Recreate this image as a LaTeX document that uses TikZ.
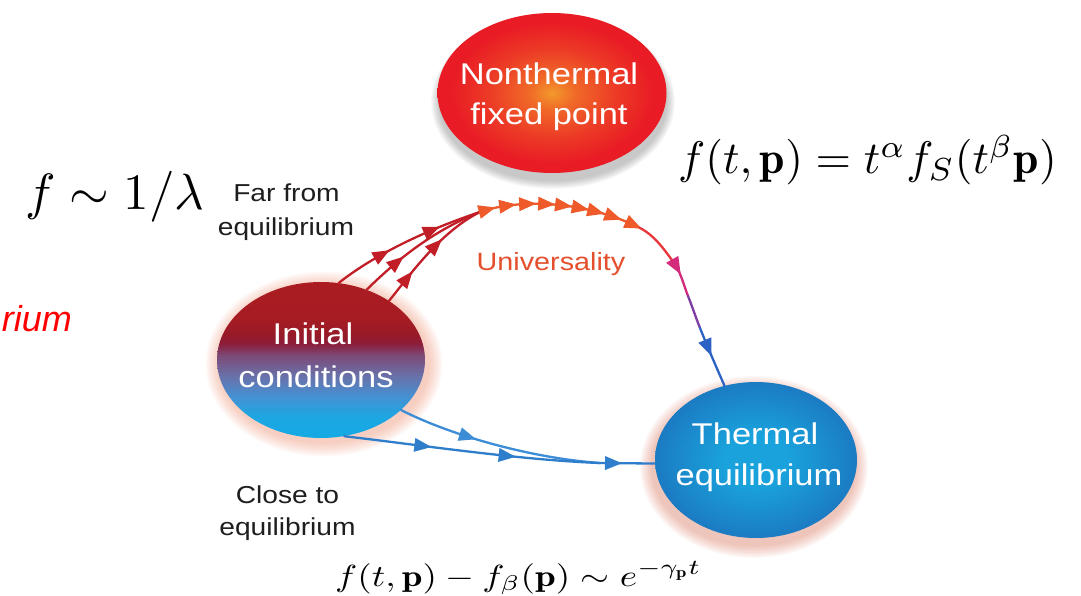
\documentclass[tikz,border=0pt]{standalone}
\usepackage{fontspec}
\usetikzlibrary{shapes.geometric,arrows.meta,decorations.markings}
\newfontfamily\labsans{Liberation Sans}
\newcommand\hstr[1]{\scalebox{1.15}[1]{#1}}
\definecolor{ntA}{HTML}{F39A2C}
\definecolor{ntB}{HTML}{F06A28}
\definecolor{ntC}{HTML}{EC3A26}
\definecolor{ntD}{HTML}{E91C25}
\definecolor{teA}{HTML}{1AA2DC}
\definecolor{teB}{HTML}{1B7BC3}
\definecolor{icA}{HTML}{14AAE4}
\definecolor{icB}{HTML}{1EA6E2}
\definecolor{icC}{HTML}{4690D2}
\definecolor{icD}{HTML}{6A70A8}
\definecolor{icE}{HTML}{7C4A78}
\definecolor{icF}{HTML}{8C1C3A}
\definecolor{icG}{HTML}{961A28}
\definecolor{icH}{HTML}{A61C22}
\definecolor{icI}{HTML}{AA1C22}
\definecolor{icglow}{HTML}{F08A66}
\definecolor{teglow}{HTML}{DC7056}
\definecolor{ntshadow}{HTML}{505050}
\definecolor{redline}{HTML}{C21E28}
\definecolor{orline}{HTML}{EF5A2A}
\definecolor{rdline}{HTML}{E8363C}
\definecolor{mgline}{HTML}{D42A7C}
\definecolor{ppline}{HTML}{7E3EA4}
\definecolor{blline}{HTML}{2C62C4}
\definecolor{bluA}{HTML}{3C8CD6}
\definecolor{bluB}{HTML}{2E7ECC}
\definecolor{univcol}{HTML}{E4502E}
\definecolor{labtxt}{HTML}{1E1E1E}
\pgfdeclareradialshading{ntshade}{\pgfpoint{0bp}{0bp}}{color(0bp)=(ntA); color(5bp)=(ntB); color(14bp)=(ntC); color(22bp)=(ntD); color(50bp)=(ntD)}
\pgfdeclareradialshading{teshade}{\pgfpoint{0bp}{0bp}}{color(0bp)=(teA); color(8bp)=(teA); color(25bp)=(teB); color(50bp)=(teB)}
\pgfdeclareverticalshading{icshade}{100bp}{color(0bp)=(icA); color(25bp)=(icA); color(32bp)=(icB); color(38.5bp)=(icC); color(45bp)=(icD); color(51.5bp)=(icE); color(55.3bp)=(icF); color(58bp)=(icG); color(63bp)=(icH); color(75bp)=(icI); color(100bp)=(icI)}
\tikzset{
  blob/.style={ellipse, inner sep=0pt, draw=none, shade},
  wtext/.style={text=white, font=\labsans\fontsize{30}{36}\selectfont, inner sep=0pt, anchor=base},
  btext/.style={text=labtxt, font=\labsans\fontsize{24.5}{30}\selectfont, inner sep=0pt, anchor=base},
  flow/.style={line width=2.3pt, line cap=round, postaction={decorate}},
  plainflow/.style={line width=2.3pt, line cap=round},
  mathlab/.style={inner sep=0pt, anchor=base west},
}
\newcommand\tipmark{\fill (-9pt,-7pt) -- (8pt,0pt) -- (-9pt,7pt) -- cycle;}
\begin{document}
\begin{tikzpicture}[x=1pt, y=-1pt]
\useasboundingbox (0,0) rectangle (1081,596);
\fill[white] (0,0) rectangle (1081,596);

% halos and shadows
\foreach \k in {1,...,8}
  \fill[ntshadow, opacity=0.045] (553,102) ellipse [x radius={113pt+1.1pt*\k}, y radius={78pt+1.1pt*\k}];
\foreach \k in {1,...,8}
  \fill[icglow, opacity=0.06] (324,364) ellipse [x radius={104pt+1.8pt*\k}, y radius={78pt+1.8pt*\k}];
\foreach \k in {1,...,8}
  \fill[teglow, opacity=0.06] (754,467) ellipse [x radius={101pt+1.6pt*\k}, y radius={78pt+1.6pt*\k}];

% ellipses
\node[blob, shading=ntshade, minimum width=229pt, minimum height=160pt] (nt) at (552,93) {};
\node[blob, shading=icshade, minimum width=208pt, minimum height=156pt] (ic) at (321,360) {};
\node[blob, shading=teshade, minimum width=202pt, minimum height=156pt] (te) at (756,460) {};

% texts in ellipses
\node[wtext] (nt1) at (549,85) {\hstr{Nonthermal}};
\node[wtext] (nt2) at (549,125) {\hstr{fixed point}};
\node[wtext] (ic1) at (313,344) {\hstr{Initial}};
\node[wtext] (ic2) at (316,387) {\hstr{conditions}};
\node[wtext] (te1) at (755,444) {\hstr{Thermal}};
\node[wtext] (te2) at (759,485) {\hstr{equilibrium}};

% labels
\node[btext] (far1) at (286.5,202) {\hstr{Far from}};
\node[btext] (far2) at (286,235) {\hstr{equilibrium}};
\node[btext] (cl1) at (287.5,503) {\hstr{Close to}};
\node[btext] (cl2) at (287.5,535) {\hstr{equilibrium}};
\node[btext, text=univcol, font=\labsans\fontsize{25}{30}\selectfont] (univ) at (551,270) {\hstr{Universality}};
\node[inner sep=0pt, anchor=base east, text=red, font=\labsans\itshape\fontsize{36}{42}\selectfont] (rium) at (72,331) {rium};

% flow coordinates
\coordinate (merge) at (480,212);
\coordinate (a1) at (640,228);
\coordinate (a2) at (674,263);
\coordinate (a3) at (688,296);
\coordinate (a4) at (700,328);
\coordinate (bmerge) at (600,463);

% red curves from initial conditions
\draw[flow, redline, decoration={markings,
    mark=at position 0.33 with {\tipmark},
    mark=at position 0.68 with {\tipmark}}]
  (ic.77) .. controls (370,258) and (420,232) .. (merge);
\draw[flow, redline, decoration={markings,
    mark=at position 0.30 with {\tipmark}}]
  (ic.57) .. controls (395,262) and (430,232) .. (merge);
\draw[flow, redline, decoration={markings,
    mark=at position 0.23 with {\tipmark},
    mark=at position 0.57 with {\tipmark}}]
  (ic.41) .. controls (410,275) and (440,232) .. (merge);

% universal arc
\draw[flow, orline, decoration={markings,
    mark=at position 8pt with {\tipmark},
    mark=at position 29pt with {\tipmark},
    mark=at position 49pt with {\tipmark},
    mark=at position 68pt with {\tipmark},
    mark=at position 85pt with {\tipmark},
    mark=at position 102pt with {\tipmark},
    mark=at position 118pt with {\tipmark},
    mark=at position 136pt with {\tipmark},
    mark=at position 158pt with {\tipmark}}]
  (merge) .. controls (520,198) and (586.6,201) .. (a1);
\draw[plainflow, rdline] (a1) .. controls (654.2,235.2) and (664.7,249.9) .. (a2);
\draw[flow, mgline, decoration={markings,
    mark=at position 5pt with {\tipmark}}]
  (a2) .. controls (681,272.8) and (683.6,284.8) .. (a3);
\draw[plainflow, ppline] (a3) .. controls (692.1,306.2) and (695.9,317.8) .. (a4);
\draw[flow, blline, decoration={markings,
    mark=at position 22pt with {\tipmark}}]
  (a4) .. controls (707.4,346.6) and (715.2,364.6) .. (te.113);

% blue curves
\draw[flow, bluA, decoration={markings,
    mark=at position 0.35 with {\tipmark}}]
  (ic.-32) .. controls (450,435) and (530,458) .. (bmerge);
\draw[flow, bluB, decoration={markings,
    mark=at position 0.31 with {\tipmark},
    mark=at position 0.64 with {\tipmark}}]
  (ic.-73) .. controls (420,445) and (520,460) .. (bmerge);
\draw[flow, bluB, decoration={markings,
    mark=at position 14pt with {\tipmark}}]
  (bmerge) -- (te.182);

% formulas
\node[mathlab] (lam) at (25,210) {\scalebox{5.1}{$f\sim 1/\lambda$}};
\node[mathlab] (scal) at (678,174) {\scalebox{4.56}{$f(t,\mathbf{p}) = t^{\alpha} f_S(t^{\beta}\mathbf{p})$}};
\node[mathlab, fill=white, inner xsep=14pt, inner ysep=3pt] (rel) at (321,586) {\scalebox{3.72}[3.05]{$f(t,\mathbf{p}) - f_\beta(\mathbf{p}) \sim e^{-\gamma_{\mathbf{p}} t}$}};
\end{tikzpicture}
\end{document}
